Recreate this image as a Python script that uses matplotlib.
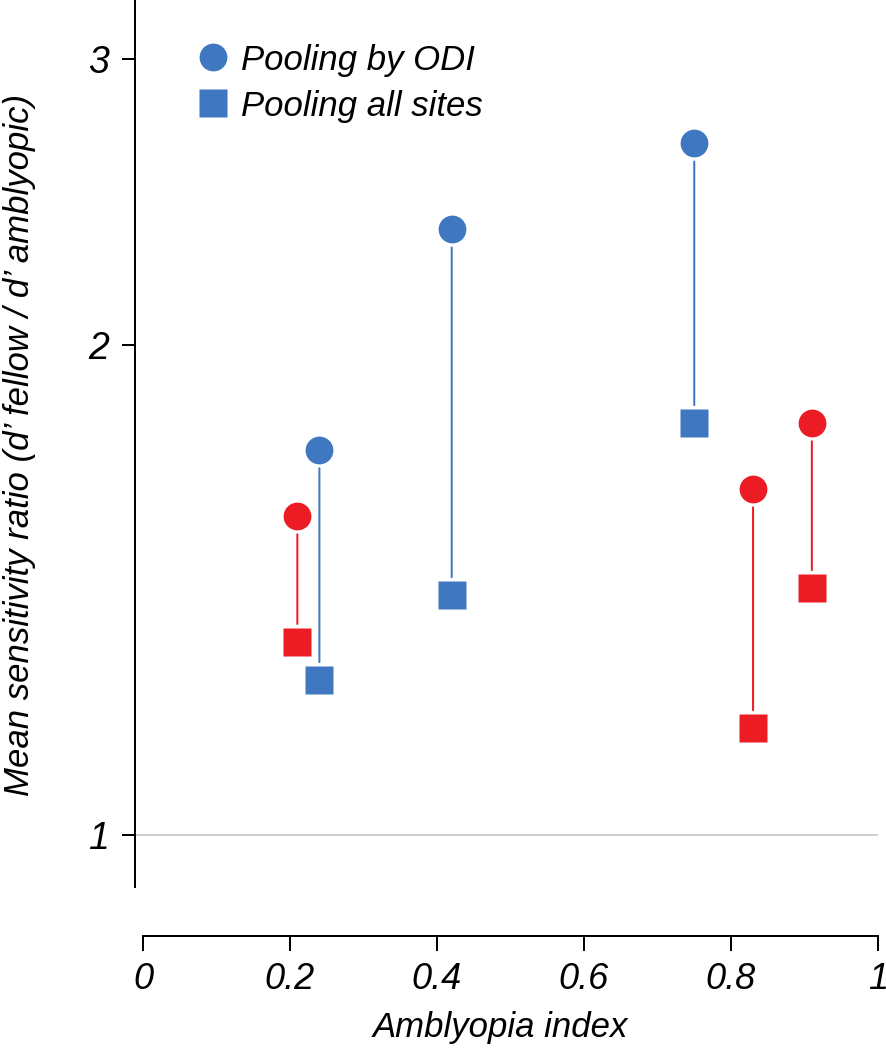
import matplotlib
matplotlib.use("Agg")
import matplotlib.pyplot as plt

# Data
blue_x = [0.24, 0.42, 0.75]
blue_odi = [1.724, 2.356, 2.661]
blue_all = [1.245, 1.404, 1.791]
red_x = [0.21, 0.83, 0.91]
red_odi = [1.570, 1.631, 1.791]
red_all = [1.314, 1.163, 1.418]
xticks = [0, 0.2, 0.4, 0.6, 0.8, 1]
xticklabels = ["0", "0.2", "0.4", "0.6", "0.8", "1"]
yticks = [1, 2, 3]
yticklabels = ["1", "2", "3"]
legend_labels = ["Pooling by ODI", "Pooling all sites"]

BLUE = "#3f77c0"
RED = "#ec1c24"

plt.rcParams['font.family'] = ['Liberation Sans', 'DejaVu Sans']
plt.rcParams['font.style'] = 'italic'

PX = 0.72  # points per pixel at dpi 100

fig = plt.figure(figsize=(8.86, 10.5), dpi=100)
ax = fig.add_axes([135/886, (1050-887)/1050, 743/886, 887/1050])
ax.set_yscale('log')
ax.set_xlim(-8/735, 1.0)
ax.set_ylim(0.929, 3.26)

ax.axhline(1, color='#cfcfcf', lw=2*PX, zorder=1)

ms_c = 20
ms_s = 20.5
for xs, top, bot, c in [(blue_x, blue_odi, blue_all, BLUE), (red_x, red_odi, red_all, RED)]:
    for x, t, b in zip(xs, top, bot):
        ax.annotate('', xy=(x, b), xytext=(x, t),
                    arrowprops=dict(arrowstyle='-', color=c, lw=2*PX,
                                    shrinkA=13, shrinkB=13))
    ax.plot(xs, top, 'o', ms=ms_c, color=c, mec='none', zorder=3)
    ax.plot(xs, bot, 's', ms=ms_s, color=c, mec='none', zorder=3)

for s in ['top', 'right']:
    ax.spines[s].set_visible(False)
ax.spines['bottom'].set_position(('outward', 49*PX))
ax.spines['bottom'].set_bounds(0, 1)
ax.spines['left'].set_linewidth(2*PX)
ax.spines['bottom'].set_linewidth(2*PX)

ax.set_xticks(xticks)
ax.set_xticklabels(xticklabels, fontsize=26, style='italic')
ax.set_yticks(yticks)
ax.set_yticklabels(yticklabels, fontsize=27, style='italic')
ax.yaxis.set_minor_locator(matplotlib.ticker.NullLocator())
ax.tick_params(axis='y', length=13*PX, width=2*PX, pad=13*PX)
ax.tick_params(axis='x', length=15*PX, width=2*PX, pad=11*PX)

ax.set_xlabel('Amblyopia index', fontsize=25, style='italic')
ax.xaxis.set_label_coords((500-135)/743, (887-1028)/887)
ax.xaxis.label.set_va('center')
ax.set_ylabel('Mean sensitivity ratio (d\u2019 fellow / d\u2019 amblyopic)', fontsize=25, style='italic')
ax.yaxis.set_label_coords((20-135)/743, (887-445)/887)
ax.yaxis.label.set_va('center')

# legend drawn manually in axes coordinates
lx = (213-135)/743
tx = (241-135)/743
ly = [(887-57)/887, (887-103)/887]
ax.plot([lx], [ly[0]], 'o', ms=ms_c, color=BLUE, mec='none', transform=ax.transAxes, clip_on=False)
ax.plot([lx], [ly[1]], 's', ms=ms_s, color=BLUE, mec='none', transform=ax.transAxes, clip_on=False)
for y, lab in zip(ly, legend_labels):
    ax.text(tx, y, lab, transform=ax.transAxes, fontsize=25, style='italic',
            ha='left', va='center_baseline')

fig.savefig('out.png', dpi=100)
